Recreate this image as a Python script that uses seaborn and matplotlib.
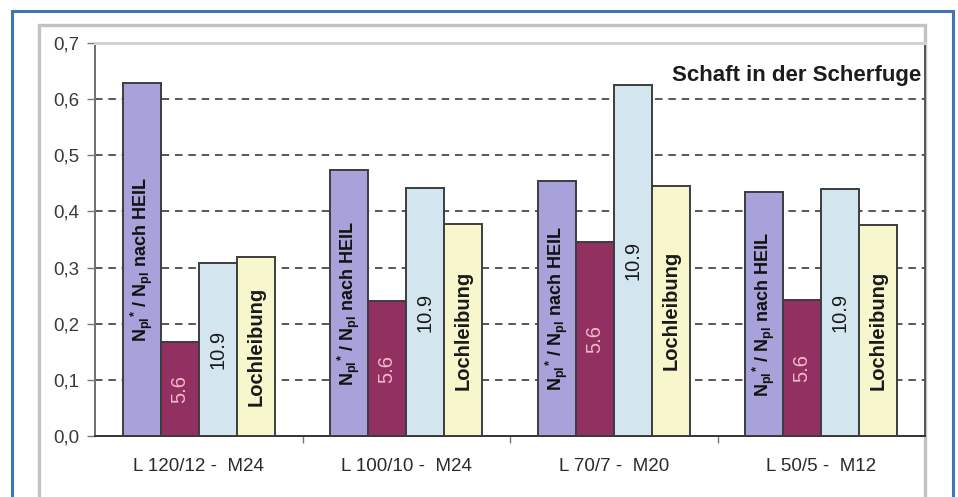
import matplotlib
matplotlib.use("Agg")
import matplotlib.pyplot as plt
from matplotlib.patches import Rectangle
from matplotlib.ticker import FuncFormatter, FixedLocator
import seaborn as sns
import pandas as pd

# Profiles / bolt sizes along the x axis
categories = ["L 120/12 -  M24", "L 100/10 -  M24", "L 70/7 -  M20", "L 50/5 -  M12"]

# Ratio values per series
heil = [0.629, 0.473, 0.455, 0.434]
grade_56 = [0.168, 0.240, 0.345, 0.242]
grade_109 = [0.309, 0.441, 0.625, 0.440]
lochleibung = [0.318, 0.377, 0.446, 0.376]

series_keys = ["heil", "5.6", "10.9", "Lochleibung"]
series_labels = [r"N$_{\mathbf{pl}}$$^{\mathbf{*}}$ / N$_{\mathbf{pl}}$ nach HEIL", "5.6", "10.9", "Lochleibung"]
series_colors = ["#a7a2d9", "#923062", "#d3e6ef", "#f8f6cd"]
label_colors = ["#111111", "#f3b9c8", "#1a1a1a", "#1a1a1a"]
label_weights = ["bold", "normal", "normal", "bold"]

yticks = [0.0, 0.1, 0.2, 0.3, 0.4, 0.5, 0.6, 0.7]
title = "Schaft in der Scherfuge"

rows = []
for key, vals in zip(series_keys, [heil, grade_56, grade_109, lochleibung]):
    for cat, v in zip(categories, vals):
        rows.append({"Profil": cat, "Serie": key, "Wert": v})
df = pd.DataFrame(rows)

sns.set_theme(style="white")
plt.rcParams["font.family"] = ["Liberation Sans", "DejaVu Sans"]
plt.rcParams["mathtext.fontset"] = "custom"
plt.rcParams["mathtext.rm"] = "Liberation Sans"
plt.rcParams["mathtext.bf"] = "Liberation Sans:bold"
plt.rcParams["mathtext.it"] = "Liberation Sans:italic"

W, H = 958, 497
fig = plt.figure(figsize=(W / 100, H / 100), dpi=100)
fig.patch.set_facecolor("white")

ax = fig.add_axes([95 / W, 1 - 436 / H, (925 - 95) / W, (436 - 43) / H])

sns.barplot(
    data=df, x="Profil", y="Wert", hue="Serie",
    order=categories, hue_order=series_keys,
    palette=dict(zip(series_keys, series_colors)),
    width=0.733, saturation=1, edgecolor="#3d3d3d", linewidth=1.4,
    legend=False, ax=ax, zorder=3,
)

# dashed horizontal guides
for t in yticks[1:-1]:
    ax.axhline(t, color="#3a3a3a", lw=1.2, ls=(0, (4.5, 3.5)), zorder=1)

ax.set_xlim(-0.5, len(categories) - 0.5)
ax.set_ylim(0, 0.7)
ax.set_yticks(yticks)
ax.yaxis.set_major_formatter(FuncFormatter(lambda v, _: f"{v:.1f}".replace(".", ",")))
ax.set_xlabel("")
ax.set_ylabel("")

ax.tick_params(axis="y", which="major", length=6, width=1, color="#777777",
               labelsize=13.5, labelcolor="#3a3a3a", pad=5, left=True, direction="out")
ax.tick_params(axis="x", which="major", length=0, labelsize=13.5, labelcolor="#2a2a2a", pad=16)
ax.xaxis.set_minor_locator(FixedLocator([0.5, 1.5, 2.5]))
ax.tick_params(axis="x", which="minor", length=5, width=1, color="#777777", bottom=True, direction="out")

for side, col, lw in [("left", "#6f6f6f", 1.4), ("bottom", "#333333", 1.4),
                      ("right", "#555555", 1.4), ("top", "#d2d2d2", 2.2)]:
    ax.spines[side].set_visible(True)
    ax.spines[side].set_color(col)
    ax.spines[side].set_linewidth(lw)

# rotated labels inside the bars
for i, cont in enumerate(ax.containers):
    for bar in cont:
        h = bar.get_height()
        xc = bar.get_x() + bar.get_width() / 2
        ax.text(xc, h / 2, series_labels[i], rotation=90, ha="center", va="center",
                fontsize=13 if i == 0 else 14.5, color=label_colors[i],
                fontweight=label_weights[i], zorder=5)

ax.text((921 - 95) / 830, (436 - 75) / 393, title, transform=ax.transAxes,
        ha="right", va="center", fontsize=16, fontweight="bold", color="#1c1c1c")

# chart frame and outer border
fig.add_artist(Rectangle((39 / W, -0.05), (925 - 39) / W, 1 - 25 / H + 0.05,
                         transform=fig.transFigure, fill=False,
                         edgecolor="#c2c2c2", lw=2.4, zorder=0))
fig.add_artist(Rectangle((12 / W, -0.05), (953 - 12) / W, 1 - 11 / H + 0.05,
                         transform=fig.transFigure, fill=False,
                         edgecolor="#4276b2", lw=2.2, zorder=10))

fig.savefig("out.png", dpi=100)
